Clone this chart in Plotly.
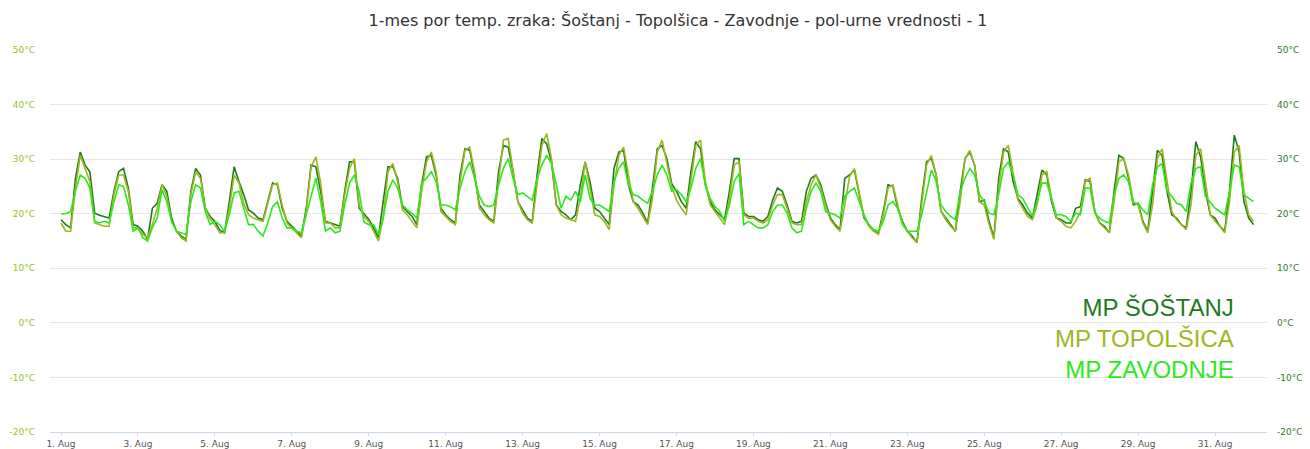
import pandas as pd
import plotly.graph_objects as go

# ---------------- data (3-hourly readings, 1 Aug 00:00 ... 1 Sep 00:00) ----------------
start_time = "2023-08-01 00:00"
step = "3h"

sostanj = [
    18.9, 18.0, 17.4, 26.5, 31.3, 28.9, 27.7, 20.1,
    19.7, 19.5, 19.2, 24.1, 27.7, 28.3, 24.7, 18.0,
    17.7, 16.8, 15.3, 21.0, 21.9, 25.3, 24.1, 19.2,
    16.8, 15.9, 15.3, 24.1, 28.3, 27.1, 21.0, 19.5,
    18.6, 17.0, 16.5, 22.2, 28.6, 25.9, 23.5, 20.7,
    20.1, 19.2, 18.9, 22.2, 25.6, 25.3, 21.0, 18.6,
    17.7, 16.8, 15.9, 21.0, 28.9, 28.6, 24.1, 18.6,
    18.3, 18.0, 17.7, 24.1, 29.5, 29.5, 21.0, 20.0,
    19.0, 17.4, 15.6, 22.2, 28.6, 28.6, 26.5, 21.3,
    20.4, 19.5, 18.0, 25.3, 30.4, 30.7, 27.1, 21.0,
    19.8, 18.9, 18.3, 27.1, 31.9, 31.6, 27.1, 21.6,
    20.4, 19.2, 18.6, 27.7, 32.5, 32.2, 27.7, 22.2,
    20.7, 19.2, 18.6, 27.1, 33.8, 32.8, 29.5, 21.6,
    20.4, 19.8, 18.9, 19.8, 25.3, 29.5, 25.9, 21.0,
    20.4, 19.2, 18.0, 28.3, 31.3, 31.6, 25.3, 22.2,
    21.6, 20.1, 18.3, 24.7, 31.9, 32.5, 30.1, 25.5,
    24.1, 22.2, 21.0, 27.7, 33.2, 31.9, 25.3, 22.2,
    20.7, 19.8, 18.9, 24.1, 30.1, 30.1, 20.1, 19.5,
    19.5, 18.9, 18.6, 19.5, 22.5, 24.7, 24.1, 21.6,
    18.6, 18.3, 18.6, 24.1, 26.5, 27.1, 25.3, 22.0,
    19.2, 18.0, 17.1, 26.5, 27.1, 28.0, 23.5, 19.2,
    18.0, 16.8, 16.5, 20.4, 25.3, 25.0, 21.0, 18.6,
    16.8, 15.9, 14.7, 22.8, 29.5, 30.1, 27.1, 20.4,
    19.2, 18.0, 16.8, 24.1, 30.1, 31.3, 28.9, 22.2,
    22.5, 18.6, 15.6, 26.5, 31.9, 31.3, 25.9, 22.8,
    21.6, 20.1, 19.2, 23.5, 28.0, 27.1, 22.2, 19.2,
    18.9, 18.3, 18.3, 21.0, 21.3, 26.2, 25.9, 20.4,
    18.3, 17.7, 16.5, 24.1, 30.7, 30.1, 26.5, 21.6,
    21.9, 18.6, 16.8, 24.1, 31.6, 30.7, 24.1, 19.8,
    19.2, 18.0, 17.4, 24.1, 33.2, 30.4, 24.1, 19.8,
    19.2, 17.7, 16.8, 24.1, 34.4, 31.3, 22.2, 19.2,
    18.0,
]

topolsica = [
    18.3, 16.8, 16.8, 24.7, 30.7, 28.3, 25.9, 18.3,
    18.0, 17.7, 17.7, 23.5, 27.1, 27.1, 24.1, 17.4,
    17.4, 16.2, 15.6, 18.0, 21.0, 25.3, 23.2, 18.6,
    16.8, 15.6, 15.0, 23.5, 27.7, 26.5, 21.0, 19.0,
    18.0, 16.5, 16.5, 21.0, 27.1, 25.6, 21.9, 19.8,
    19.2, 18.9, 18.6, 21.9, 25.3, 25.6, 21.6, 18.3,
    17.4, 16.5, 15.6, 20.4, 28.6, 30.4, 25.6, 18.3,
    18.3, 17.4, 17.4, 23.5, 28.3, 30.1, 21.6, 19.5,
    18.6, 16.8, 15.0, 19.2, 27.7, 29.2, 25.9, 20.7,
    19.8, 18.6, 17.4, 24.1, 29.5, 31.3, 27.7, 20.4,
    19.5, 18.6, 18.0, 25.9, 31.6, 32.2, 27.7, 21.0,
    19.8, 18.9, 18.3, 26.5, 33.5, 33.8, 28.3, 22.2,
    20.1, 18.9, 18.3, 25.3, 32.5, 34.7, 30.1, 21.6,
    19.8, 19.2, 18.9, 18.6, 22.8, 29.5, 24.7, 19.8,
    19.5, 18.6, 17.1, 25.3, 30.7, 32.2, 27.1, 22.2,
    21.0, 19.5, 18.0, 22.8, 31.3, 33.5, 29.5, 25.0,
    22.5, 21.0, 19.8, 26.5, 32.5, 33.5, 25.9, 21.6,
    20.4, 19.2, 18.0, 22.8, 28.9, 29.5, 19.8, 19.2,
    19.2, 18.6, 18.3, 18.9, 21.6, 23.5, 23.5, 21.0,
    18.3, 18.0, 18.0, 22.2, 25.3, 27.1, 24.7, 21.5,
    18.9, 17.7, 16.8, 21.6, 26.8, 28.3, 24.1, 19.5,
    17.7, 16.8, 16.2, 19.8, 24.7, 25.3, 21.6, 18.3,
    16.8, 15.6, 14.7, 21.6, 28.9, 30.7, 27.1, 20.4,
    18.9, 17.7, 16.8, 22.2, 30.1, 31.6, 28.9, 22.2,
    21.6, 18.0, 15.3, 24.7, 31.3, 32.5, 27.1, 22.5,
    21.0, 19.5, 18.9, 21.6, 27.1, 27.7, 22.8, 19.2,
    18.6, 17.7, 17.4, 18.6, 20.4, 25.9, 26.5, 20.4,
    18.3, 17.4, 16.5, 22.2, 29.5, 30.1, 27.1, 22.2,
    21.6, 18.3, 16.5, 21.6, 30.1, 31.9, 25.9, 20.4,
    18.9, 18.0, 17.1, 21.6, 30.7, 31.9, 25.9, 19.8,
    18.6, 17.7, 16.5, 22.2, 31.3, 32.5, 24.1, 19.8,
    18.6,
]

zavodnje = [
    20.0, 20.0, 20.4, 24.1, 27.1, 26.5, 24.7, 18.6,
    18.3, 18.6, 18.3, 22.2, 25.3, 25.0, 21.6, 16.8,
    17.4, 15.6, 15.0, 17.4, 19.2, 24.4, 22.2, 18.6,
    16.8, 16.5, 16.2, 22.2, 25.3, 24.7, 20.4, 18.0,
    18.6, 18.0, 16.8, 19.8, 23.8, 24.1, 21.0, 18.0,
    18.0, 16.8, 15.9, 18.3, 21.3, 22.2, 19.2, 17.4,
    17.4, 16.8, 16.5, 19.8, 23.2, 26.5, 22.2, 16.8,
    17.4, 16.5, 16.8, 21.6, 25.6, 27.1, 24.1, 18.5,
    18.0, 18.0, 16.2, 19.2, 24.1, 26.2, 24.7, 21.6,
    20.7, 20.1, 19.2, 25.6, 26.5, 27.7, 25.9, 21.6,
    21.6, 21.3, 20.7, 24.7, 27.7, 29.5, 26.5, 23.2,
    21.6, 21.3, 21.6, 25.3, 28.3, 30.1, 26.5, 23.5,
    23.8, 23.2, 22.5, 26.5, 28.9, 30.7, 29.2, 25.3,
    21.0, 23.2, 22.5, 24.1, 22.2, 27.1, 22.8, 21.6,
    21.6, 21.0, 20.4, 25.9, 28.3, 29.5, 25.3, 23.5,
    23.2, 22.5, 21.9, 24.1, 27.1, 28.9, 27.1, 24.1,
    24.4, 23.5, 22.2, 24.7, 28.3, 30.1, 25.3, 22.8,
    21.3, 20.4, 18.6, 21.6, 25.9, 27.4, 18.0, 18.6,
    18.0, 17.4, 17.4, 18.0, 20.4, 21.6, 21.6, 20.1,
    17.4, 16.5, 16.8, 21.0, 24.1, 25.6, 24.1, 20.4,
    20.1, 19.8, 19.2, 23.2, 24.1, 24.7, 22.2, 19.8,
    18.0, 17.1, 16.8, 18.6, 21.6, 22.2, 21.0, 18.0,
    16.8, 16.8, 16.8, 19.8, 24.1, 28.0, 25.9, 21.6,
    20.4, 19.5, 18.9, 24.1, 26.5, 28.3, 27.1, 23.5,
    22.2, 20.1, 19.8, 23.5, 28.3, 29.5, 27.1, 23.5,
    22.8, 21.0, 19.5, 22.2, 25.6, 25.6, 22.8, 19.8,
    19.8, 19.5, 18.6, 20.1, 19.8, 24.7, 24.7, 20.1,
    19.2, 18.6, 18.3, 23.5, 26.5, 27.1, 25.9, 21.9,
    21.9, 20.7, 19.8, 25.3, 28.6, 29.2, 24.1, 23.2,
    21.9, 21.6, 20.4, 25.6, 28.3, 28.6, 23.2, 22.2,
    21.0, 20.4, 19.8, 24.1, 28.9, 28.6, 23.5, 22.8,
    22.2,
]

series_names = ["MP ŠOŠTANJ", "MP TOPOLŠICA", "MP ZAVODNJE"]
series_colors = ["#1f7a1f", "#9cb81c", "#2ee81e"]
y_ticks = [-20, -10, 0, 10, 20, 30, 40, 50]
y_tick_labels = ["-20°C", "-10°C", "0°C", "10°C", "20°C", "30°C", "40°C", "50°C"]
title_text = "1-mes por temp. zraka: Šoštanj - Topolšica - Zavodnje - pol-urne vrednosti - 1"

times = pd.date_range(start_time, periods=len(sostanj), freq=step)

fig = go.Figure()
for name, vals, col, ax in zip(series_names, [sostanj, topolsica, zavodnje],
                               series_colors, ["y", "y", "y2"]):
    fig.add_trace(go.Scatter(x=times, y=vals, mode="lines", name=name,
                             line=dict(color=col, width=1.6), yaxis=ax,
                             showlegend=False, hoverinfo="x+y+name"))

tick_font = dict(family="DejaVu Sans", size=9)

# page body has an 8px margin, so the figure is sized to fit the 1310x449 window
fig.update_layout(
    width=1302, height=441,
    margin=dict(l=42, r=43, t=42, b=17),
    paper_bgcolor="white", plot_bgcolor="white",
    title=dict(text=title_text, x=0.5146, xanchor="center", y=0.973, yanchor="middle",
               font=dict(family="DejaVu Sans", size=16, color="#333333")),
    xaxis=dict(
        type="date", automargin=False,
        range=["2023-07-31 17:08", "2023-09-01 08:24"],
        tick0="2023-08-01", dtick=2 * 86400000, tickformat="%-d. %b",
        showgrid=False, zeroline=False,
        showline=True, linecolor="#ccd6eb", linewidth=1,
        ticks="outside", ticklen=3, tickcolor="#ccd6eb",
        tickfont=dict(family="DejaVu Sans", size=9, color="#555555"),
    ),
    yaxis=dict(
        range=[-20, 50], tickmode="array", tickvals=y_ticks, ticktext=y_tick_labels,
        automargin=False,
        showgrid=True, gridcolor="#e6e6e6", gridwidth=1, zeroline=False,
        showline=False, ticks="", ticklabelstandoff=14,
        tickfont=dict(tick_font, color="#99c21a"),
    ),
    yaxis2=dict(
        range=[-20, 50], tickmode="array", tickvals=y_ticks, ticktext=y_tick_labels,
        automargin=False,
        overlaying="y", side="right", showgrid=False, zeroline=False,
        showline=False, ticks="", ticklabelstandoff=9,
        tickfont=dict(tick_font, color="#2e7d1e"),
    ),
    shapes=[dict(type="rect", xref="paper", yref="paper",
                 x0=(975 - 50) / 1217, x1=(1255 - 50) / 1217,
                 y0=(432 - 394) / 382, y1=(432 - 283) / 382,
                 fillcolor="white", line=dict(width=0), layer="between")],
    annotations=[dict(
        xref="paper", yref="paper", x=(1236 - 50) / 1217, y=(432 - 338) / 382,
        xanchor="right", yanchor="middle", align="right", showarrow=False,
        text=("<span style='color:%s'>%s</span><br>"
              "<span style='color:%s'>%s</span><br>"
              "<span style='color:%s'>%s</span>") % (
            series_colors[0], series_names[0], series_colors[1], series_names[1],
            series_colors[2], series_names[2]),
        font=dict(family="Liberation Sans", size=24),
    )],
)

fig.write_html("out.html")
